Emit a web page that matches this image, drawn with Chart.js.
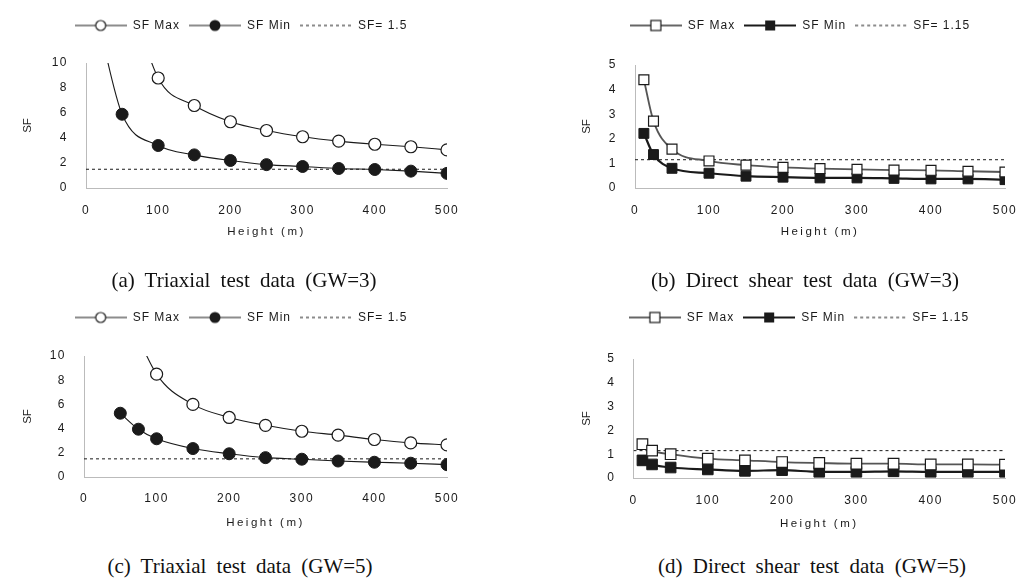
<!DOCTYPE html>
<html>
<head>
<meta charset="utf-8">
<script src="https://cdn.jsdelivr.net/npm/chart.js@4.4.0/dist/chart.umd.min.js"></script>
<style>
  body { margin: 0; background: #fff; width: 1035px; height: 585px; position: relative; overflow: hidden; }
  canvas { position: absolute; }
  .cap { position: absolute; font-family: "Liberation Serif", serif; font-size: 21px; line-height: 21px;
         word-spacing: 5px; color: #111; white-space: nowrap; transform: translateX(-50%); }
</style>
</head>
<body>
<canvas id="chartA" width="515" height="239" style="left:0;top:0"></canvas>
<canvas id="chartB" width="520" height="239" style="left:515px;top:0"></canvas>
<canvas id="chartC" width="515" height="250" style="left:0;top:280px"></canvas>
<canvas id="chartD" width="520" height="251" style="left:515px;top:280px"></canvas>
<div class="cap" style="left:244px;top:270px">(a) Triaxial test data (GW=3)</div>
<div class="cap" style="left:805px;top:270px">(b) Direct shear test data (GW=3)</div>
<div class="cap" style="left:240px;top:556px">(c) Triaxial test data (GW=5)</div>
<div class="cap" style="left:812px;top:556px">(d) Direct shear test data (GW=5)</div>
<script>
// x axis, all panels
var xTickValues = [0, 100, 200, 300, 400, 500];

// (a) Triaxial test data, GW=3  (first points lie above the axis top)
var heightMaxA = [50, 100, 150, 200, 250, 300, 350, 400, 450, 500];
var sfMaxA = [17.5, 8.8, 6.6, 5.3, 4.6, 4.1, 3.75, 3.5, 3.3, 3.05];
var heightMinA = [20, 50, 100, 150, 200, 250, 300, 350, 400, 450, 500];
var sfMinA = [12.5, 5.9, 3.4, 2.65, 2.2, 1.87, 1.72, 1.56, 1.48, 1.35, 1.17];
var limitA = 1.5;
var yTicksA = [0, 2, 4, 6, 8, 10];

// (b) Direct shear test data, GW=3
var heightB = [12, 25, 50, 100, 150, 200, 250, 300, 350, 400, 450, 500];
var sfMaxB = [4.4, 2.72, 1.58, 1.1, 0.93, 0.84, 0.79, 0.76, 0.73, 0.72, 0.68, 0.65];
var sfMinB = [2.22, 1.36, 0.8, 0.6, 0.48, 0.44, 0.41, 0.41, 0.39, 0.37, 0.37, 0.34];
var limitB = 1.15;
var yTicksB = [0, 1, 2, 3, 4, 5];

// (c) Triaxial test data, GW=5
var heightMaxC = [50, 100, 150, 200, 250, 300, 350, 400, 450, 500];
var sfMaxC = [15, 8.5, 6.0, 4.92, 4.27, 3.78, 3.46, 3.1, 2.82, 2.65];
var heightMinC = [50, 75, 100, 150, 200, 250, 300, 350, 400, 450, 500];
var sfMinC = [5.27, 3.95, 3.16, 2.35, 1.92, 1.6, 1.47, 1.32, 1.22, 1.14, 1.02];
var limitC = 1.5;

// (d) Direct shear test data, GW=5
var heightD = [12, 25, 50, 100, 150, 200, 250, 300, 350, 400, 450, 500];
var sfMaxD = [1.42, 1.15, 1.0, 0.81, 0.74, 0.67, 0.63, 0.6, 0.6, 0.57, 0.57, 0.56];
var sfMinD = [0.74, 0.57, 0.44, 0.36, 0.3, 0.33, 0.26, 0.26, 0.28, 0.26, 0.26, 0.26];
var limitD = 1.15;

var FONT = '"Liberation Sans", Arial, sans-serif';
var INK = '#1a1a1a';

function xy(xs, ys) {
  return xs.map(function (x, i) { return { x: x, y: ys[i] }; });
}
function limitLine(v) {
  return [{ x: xTickValues[0], y: v }, { x: xTickValues[xTickValues.length - 1], y: v }];
}

// small pictures for the legend: line with the marker in the middle
function legendIcon(kind) {
  var c = document.createElement('canvas');
  c.width = 52; c.height = 14;
  var g = c.getContext('2d');
  var my = 7, mx = 26;
  g.beginPath(); g.moveTo(0, my); g.lineTo(52, my);
  g.strokeStyle = INK; g.lineWidth = 1;
  if (kind == 'sqOpen') { g.strokeStyle = '#666'; g.lineWidth = 2; }
  if (kind == 'sqFill') { g.lineWidth = 2.2; }
  if (kind == 'dash') { g.setLineDash([3, 3]); }
  g.stroke();
  g.setLineDash([]);
  g.lineWidth = 1.2; g.strokeStyle = INK;
  if (kind == 'circOpen') { g.beginPath(); g.arc(mx, my, 5, 0, Math.PI * 2); g.fillStyle = '#fff'; g.fill(); g.stroke(); }
  if (kind == 'circFill') { g.beginPath(); g.arc(mx, my, 5.5, 0, Math.PI * 2); g.fillStyle = INK; g.fill(); }
  if (kind == 'sqOpen') { g.fillStyle = '#fff'; g.fillRect(mx - 5, my - 5, 10, 10); g.strokeRect(mx - 5, my - 5, 10, 10); }
  if (kind == 'sqFill') { g.fillStyle = INK; g.fillRect(mx - 5, my - 5, 10, 10); }
  return c;
}

// legend gap / offset + letter spacing of the texts
var tweaks = {
  id: 'tweaks',
  afterInit: function (chart, args, opts) {
    var lg = chart.legend, fit = lg.fit, draw = lg.draw, ctx = chart.ctx;
    lg.fit = function () {
      ctx.letterSpacing = '1px'; fit.call(this); ctx.letterSpacing = '0px';
      this.height += opts.gap;
    };
    lg.draw = function () { ctx.letterSpacing = '1px'; draw.apply(this, arguments); ctx.letterSpacing = '0px'; };
  },
  afterLayout: function (chart, args, opts) {
    chart.legend.left += opts.dx;
    chart.legend.right += opts.dx;
  },
  afterUpdate: function (chart) {
    Object.values(chart.scales).forEach(function (s) {
      if (s._spaced) return;
      s._spaced = true;
      var dl = s.drawLabels, dt = s.drawTitle, ctx = chart.ctx;
      s.drawLabels = function () { ctx.letterSpacing = '1.5px'; dl.apply(this, arguments); ctx.letterSpacing = '0px'; };
      s.drawTitle = function () {
        ctx.letterSpacing = this.isHorizontal() ? '2.5px' : '0px';
        dt.apply(this, arguments); ctx.letterSpacing = '0px';
      };
    });
  }
};

function makeChart(p) {
  var yMax = p.yTicks[p.yTicks.length - 1];
  var hideHigh = function (ctx) { return ctx.raw && ctx.raw.y > yMax ? 0 : p.r; };
  var sets = [
    {
      label: 'SF Max', data: p.max, borderColor: p.square ? '#555' : INK, borderWidth: p.square ? 1.8 : 1.1,
      pointStyle: p.square ? 'rect' : 'circle', pointRadius: hideHigh, pointBackgroundColor: '#fff',
      pointBorderColor: INK, pointBorderWidth: 1.2, cubicInterpolationMode: 'monotone'
    },
    {
      label: 'SF Min', data: p.min, borderColor: INK, borderWidth: p.square ? 2.2 : 1.1,
      pointStyle: p.square ? 'rect' : 'circle', pointRadius: hideHigh, pointBackgroundColor: INK,
      pointBorderColor: INK, pointBorderWidth: 1, cubicInterpolationMode: 'monotone'
    },
    {
      label: 'SF= ' + p.limit, data: limitLine(p.limit), borderColor: INK, borderWidth: 1,
      borderDash: [3, 3], pointRadius: 0
    }
  ];
  var icons = p.square ? [legendIcon('sqOpen'), legendIcon('sqFill'), legendIcon('dash')]
                       : [legendIcon('circOpen'), legendIcon('circFill'), legendIcon('dash')];

  return new Chart(document.getElementById(p.id), {
    type: 'line',
    data: { datasets: sets },
    plugins: [tweaks],
    options: {
      responsive: false,
      animation: false,
      layout: { padding: { left: p.pad[0], right: p.pad[1], top: p.pad[2], bottom: 0 } },
      plugins: {
        tooltip: { enabled: false },
        tweaks: { gap: p.gap, dx: p.dx },
        legend: {
          position: 'top',
          labels: {
            usePointStyle: true, pointStyleWidth: 52, padding: 9, color: INK,
            font: { family: FONT, size: 12 },
            generateLabels: function (chart) {
              var items = Chart.defaults.plugins.legend.labels.generateLabels(chart);
              items.forEach(function (it, i) { it.pointStyle = icons[i]; });
              return items;
            }
          }
        }
      },
      scales: {
        x: {
          type: 'linear', min: 0, max: 500,
          afterBuildTicks: function (s) { s.ticks = xTickValues.map(function (v) { return { value: v }; }); },
          afterFit: function (s) { s.height = p.xh; },
          grid: { display: false, drawTicks: false },
          border: { display: true, color: '#bbb', dash: [1, 2] },
          ticks: { padding: p.tpx, color: INK, font: { family: FONT, size: 12 }, maxRotation: 0 },
          title: { display: true, text: 'Height (m)', color: INK, padding: { top: 0, bottom: 0 },
                   font: { family: FONT, size: 11.5 } }
        },
        y: {
          min: 0, max: yMax,
          afterBuildTicks: function (s) { s.ticks = p.yTicks.map(function (v) { return { value: v }; }); },
          afterFit: function (s) { s.width = p.yw; },
          grid: { display: false, drawTicks: false },
          border: { display: true, color: '#bbb', dash: [1, 2] },
          ticks: { padding: 18, color: INK, font: { family: FONT, size: 12 } },
          title: { display: true, text: 'SF', color: INK, padding: { top: 6, bottom: 0 },
                   font: { family: FONT, size: 11.5 } }
        }
      }
    }
  });
}

makeChart({ id: 'chartA', max: xy(heightMaxA, sfMaxA), min: xy(heightMinA, sfMinA), limit: limitA,
  yTicks: yTicksA, square: false, r: 6, pad: [15, 68, 10.5], yw: 71, xh: 51, tpx: 15.5, gap: 21.5, dx: 10 });
makeChart({ id: 'chartB', max: xy(heightB, sfMaxB), min: xy(heightB, sfMinB), limit: limitB,
  yTicks: yTicksB, square: true, r: 7, pad: [59, 30, 10.5], yw: 61, xh: 51, tpx: 15.5, gap: 23.5, dx: 10.5 });
makeChart({ id: 'chartC', max: xy(heightMaxC, sfMaxC), min: xy(heightMinC, sfMinC), limit: limitC,
  yTicks: yTicksA, square: false, r: 6, pad: [15, 68, 22.5], yw: 69, xh: 53, tpx: 14, gap: 22.5, dx: 10 });
makeChart({ id: 'chartD', max: xy(heightD, sfMaxD), min: xy(heightD, sfMinD), limit: limitD,
  yTicks: yTicksB, square: true, r: 7.5, pad: [59, 30, 22.5], yw: 59.5, xh: 53, tpx: 15, gap: 25.5, dx: 9.5 });
</script>
</body>
</html>
